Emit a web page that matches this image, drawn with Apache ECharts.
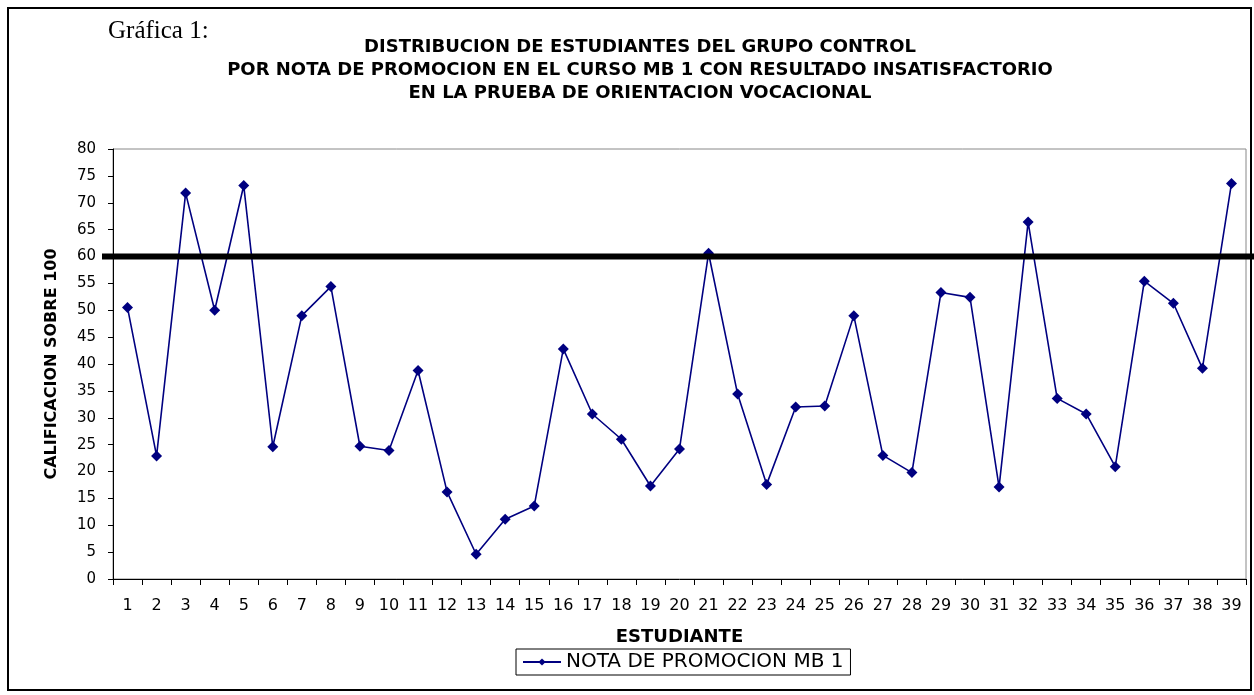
<!DOCTYPE html>
<html>
<head>
    <meta charset="utf-8">
    <title>Gráfica 1</title>
    <script src="https://cdn.jsdelivr.net/npm/echarts@6/dist/echarts.min.js"></script>
    <style>
        html, body { margin: 0; padding: 0; background: #ffffff; }
        #chart { width: 1254px; height: 695px; }
    </style>
</head>
<body>
<div id="chart"></div>
<script>
    // datos
    var estudiantes = [];
    for (var i = 1; i <= 39; i++) estudiantes.push(String(i));
    var notas = [50.5, 22.9, 71.8, 50.0, 73.2, 24.6, 49.0, 54.4, 24.7, 23.9,
        38.8, 16.2, 4.6, 11.1, 13.6, 42.8, 30.7, 26.0, 17.3, 24.2,
        60.6, 34.4, 17.6, 32.0, 32.2, 49.0, 23.0, 19.8, 53.3, 52.4,
        17.1, 66.4, 33.6, 30.7, 20.9, 55.4, 51.3, 39.2, 73.6];
    var notaMinima = 60;
    var yTicks = {min: 0, max: 80, interval: 5};

    var fuente = 'DejaVu Sans';
    var chart = echarts.init(document.getElementById('chart'));
    var option = {
        backgroundColor: '#ffffff',
        animation: false,
        title: [{
            text: 'Gráfica 1:',
            left: 103,
            top: 14,
            textStyle: {fontFamily: 'Liberation Serif', fontSize: 25, fontWeight: 'normal', color: '#000'}
        }, {
            text: 'DISTRIBUCION DE ESTUDIANTES DEL GRUPO CONTROL\nPOR NOTA DE PROMOCION EN EL CURSO MB 1 CON RESULTADO INSATISFACTORIO\nEN LA PRUEBA DE ORIENTACION VOCACIONAL',
            left: 635,
            top: 31,
            textAlign: 'center',
            textStyle: {fontFamily: fuente, fontSize: 18, fontWeight: 'bold', color: '#000', lineHeight: 23}
        }],
        grid: {left: 113, right: 8, top: 149, bottom: 116, show: true, borderColor: '#888', borderWidth: 1},
        legend: {
            left: 516,
            top: 649,
            padding: [3, 7, 3, 6],
            borderColor: '#000',
            borderWidth: 1,
            borderRadius: 0,
            itemWidth: 38,
            itemHeight: 9,
            itemGap: 5,
            textStyle: {fontFamily: fuente, fontSize: 20, color: '#000'},
            data: ['NOTA DE PROMOCION MB 1']
        },
        xAxis: {
            type: 'category',
            data: estudiantes,
            boundaryGap: true,
            name: 'ESTUDIANTE',
            nameLocation: 'middle',
            nameGap: 49,
            nameTextStyle: {fontFamily: fuente, fontSize: 18, fontWeight: 'bold', color: '#000'},
            axisLine: {lineStyle: {color: '#000', width: 1}},
            axisTick: {show: true, interval: 0, length: 6, lineStyle: {color: '#000'}},
            axisLabel: {interval: 0, margin: 19, fontFamily: fuente, fontSize: 16, color: '#000'},
            splitLine: {show: false}
        },
        yAxis: {
            type: 'value',
            min: yTicks.min,
            max: yTicks.max,
            interval: yTicks.interval,
            name: 'CALIFICACION SOBRE 100',
            nameLocation: 'middle',
            nameGap: 53,
            nameRotate: 90,
            nameTextStyle: {fontFamily: fuente, fontSize: 16, fontWeight: 'bold', color: '#000'},
            axisLine: {show: true, lineStyle: {color: '#000', width: 1}},
            axisTick: {show: true, length: 5, lineStyle: {color: '#000'}},
            axisLabel: {margin: 17, fontFamily: fuente, fontSize: 15, color: '#000'},
            splitLine: {show: false}
        },
        series: [{
            name: 'NOTA DE PROMOCION MB 1',
            type: 'line',
            data: notas,
            symbol: 'diamond',
            symbolSize: 11,
            lineStyle: {color: '#000080', width: 1.6},
            itemStyle: {color: '#000080'}
        }]
    };
    chart.setOption(option);

    // linea de aprobacion (60) y marco exterior
    var y60 = chart.convertToPixel({yAxisIndex: 0}, notaMinima);
    chart.setOption({
        graphic: [{
            type: 'rect',
            shape: {x: 8, y: 8, width: 1243, height: 682},
            style: {fill: 'none', stroke: '#000', lineWidth: 2},
            z: 100
        }, {
            type: 'line',
            shape: {x1: 102, y1: y60, x2: 1254, y2: y60},
            style: {stroke: '#000', lineWidth: 6},
            z: 100
        }]
    });
</script>
</body>
</html>
